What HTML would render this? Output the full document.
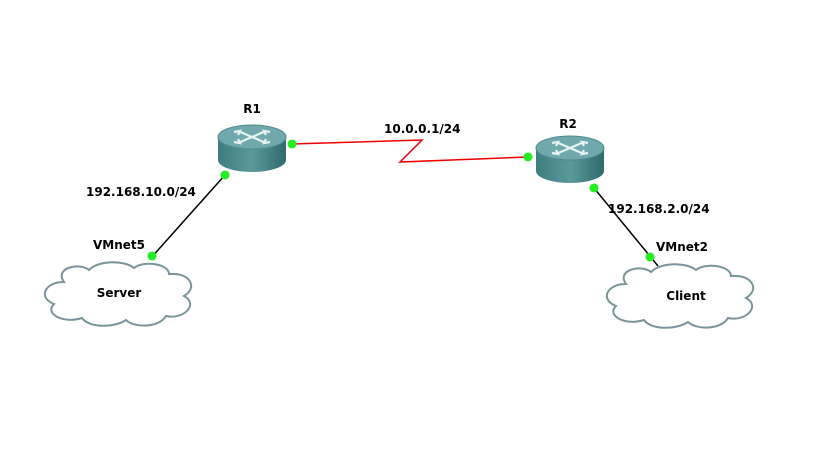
<!DOCTYPE html>
<html><head><style>body{margin:0;background:#fff}svg{display:block}text{font-family:"DejaVu Sans",sans-serif;font-weight:bold;font-size:12px;fill:#000}</style></head><body>
<svg width="819" height="460" viewBox="0 0 819 460">
<defs>
<linearGradient id="rb" x1="0" x2="1"><stop offset="0" stop-color="#3d7d80"/><stop offset="0.5" stop-color="#5a9a9c"/><stop offset="1" stop-color="#2f6a6d"/></linearGradient>
<g id="router">
<path d="M-34,0 L-34,23 A34,12 0 0 0 34,23 L34,0 Z" fill="url(#rb)"/>
<ellipse cx="0" cy="0" rx="34" ry="12" fill="#6fa9ab" stroke="#4f8a8c"/>
<g stroke="#e8f2f2" stroke-width="2.2" fill="none">
<path d="M-14,-6 L14,6 M14,-6 L-14,6"/>
<path d="M-18,-5 L-12,-6 L-14,-2 M18,5 L12,6 L14,2 M18,-5 L12,-6 L14,-2 M-18,5 L-12,6 L-14,2"/>
</g>
</g>
<g id="cloud">
<path d="M20,20 C10,6 35,0 45,8 C55,-2 80,-2 90,6 C100,-2 125,2 125,12 C145,10 155,25 140,34 C155,42 140,58 122,54 C115,66 90,66 82,58 C70,66 45,66 38,56 C20,62 0,52 10,42 C-6,36 0,20 20,20 Z" fill="#fff" stroke="#7a9599" stroke-width="2"/>
</g>
</defs>
<line x1="225" y1="175" x2="150" y2="259" stroke="#000" stroke-width="1.5"/>
<line x1="594" y1="188" x2="658" y2="266" stroke="#000" stroke-width="1.5"/>
<polyline points="292,144 422,140 400,162 528,157" fill="none" stroke="#e00" stroke-width="1.5"/>
<use href="#router" x="252" y="137"/>
<use href="#router" x="570" y="148"/>
<use href="#cloud" x="44" y="262"/>
<use href="#cloud" x="606" y="264"/>
<g fill="#22ee22"><circle cx="292" cy="144" r="4.5"/><circle cx="225" cy="175" r="4.5"/><circle cx="152" cy="256" r="4.5"/><circle cx="528" cy="157" r="4.5"/><circle cx="594" cy="188" r="4.5"/><circle cx="650" cy="257" r="4.5"/></g>
<text x="252" y="113" text-anchor="middle">R1</text>
<text x="568" y="128" text-anchor="middle">R2</text>
<text x="384" y="133">10.0.0.1/24</text>
<text x="86" y="196">192.168.10.0/24</text>
<text x="608" y="213">192.168.2.0/24</text>
<text x="93" y="249">VMnet5</text>
<text x="656" y="251">VMnet2</text>
<text x="119" y="297" text-anchor="middle">Server</text>
<text x="686" y="300" text-anchor="middle">Client</text>
</svg>
</body></html>
